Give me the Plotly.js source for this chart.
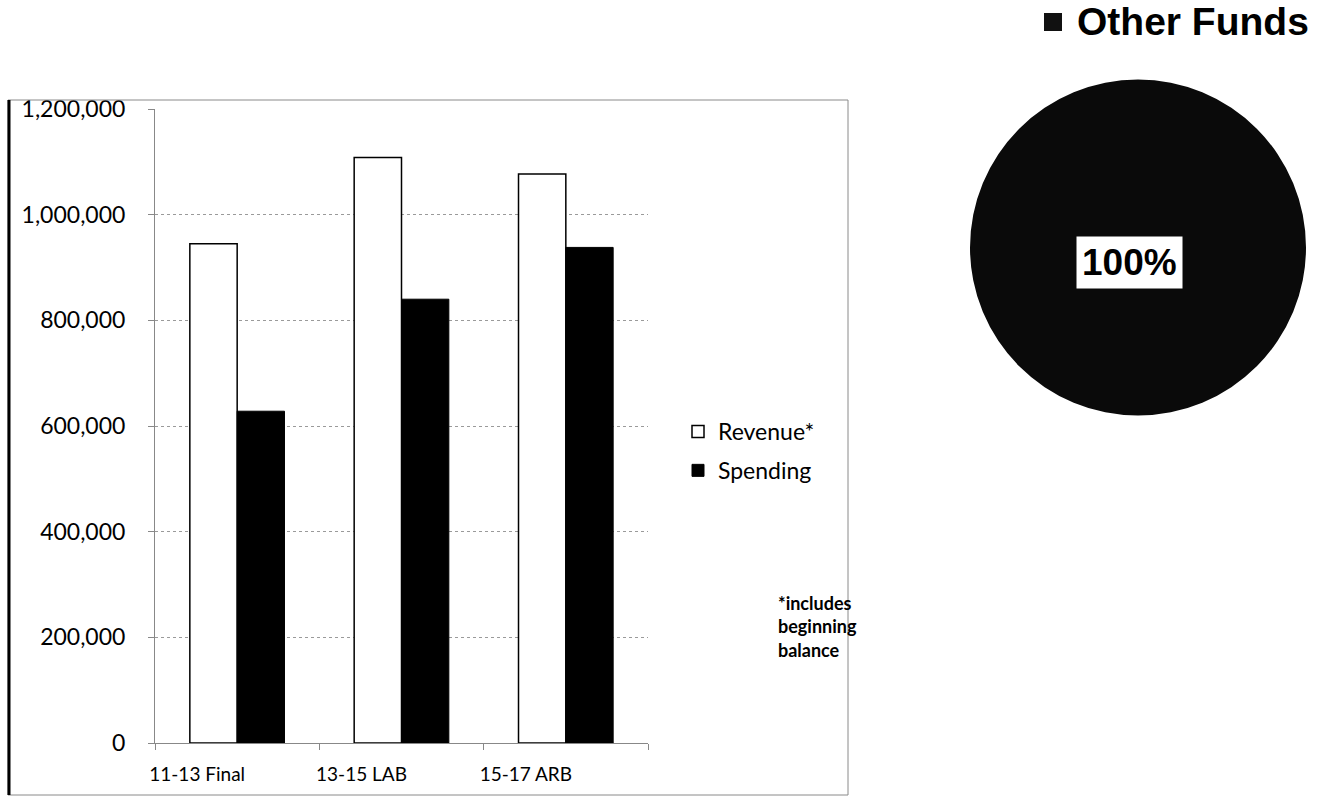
<!DOCTYPE html>
<html>
<head>
<meta charset="utf-8">
<script src="https://cdn.plot.ly/plotly-3.0.1.min.js"></script>
<style>html,body{margin:0;padding:0;background:#fff;}#chart{width:1317px;height:810px;}</style>
</head>
<body>
<div id="chart"></div>
<script>
const categories = ["11-13 Final", "13-15 LAB", "15-17 ARB"];
const revenue = [945000, 1108000, 1077000];
const spending = [628000, 840000, 938000];
const yTickVals = [0, 200000, 400000, 600000, 800000, 1000000, 1200000];
const yTickText = ["0", "200,000", "400,000", "600,000", "800,000", "1,000,000", "1,200,000"];
const pieLabels = ["Other Funds"];
const pieValues = [100];
const noteText = "*includes<br>beginning<br>balance";

const W = 1317, H = 810;
const px = x => x / W;
const py = y => 1 - y / H;

const pieTotal = pieValues.reduce((a, b) => a + b, 0);
const piePct = Math.round(pieValues[0] / pieTotal * 100) + "%";

const data = [
  {
    type: "bar", name: "Revenue*", x: categories, y: revenue,
    marker: {color: "#ffffff", line: {color: "#000000", width: 1.5}},
    legendgroup: "r", hoverinfo: "skip"
  },
  {
    type: "bar", name: "Spending", x: categories, y: spending,
    marker: {color: "#000000", line: {color: "#000000", width: 1}},
    legendgroup: "s", hoverinfo: "skip"
  },
  {
    type: "pie", labels: pieLabels, values: pieValues,
    domain: {x: [px(970), px(1306)], y: [py(418), py(77)]},
    marker: {colors: ["#0a0a0a"], line: {width: 0}},
    textinfo: "none", showlegend: false, sort: false, hoverinfo: "skip"
  }
];

const layout = {
  width: W, height: H,
  margin: {l: 0, r: 0, t: 0, b: 0},
  paper_bgcolor: "#ffffff", plot_bgcolor: "#ffffff",
  barmode: "group", bargap: 0.424, bargroupgap: 0,
  font: {family: "Lato, 'Open Sans', sans-serif", color: "#000"},
  xaxis: {
    domain: [px(155), px(648)],
    tickson: "boundaries", ticks: "outside", ticklen: 6, tickcolor: "#888",
    showline: true, linecolor: "#888", linewidth: 1,
    tickfont: {size: 19, family: "Lato, sans-serif"},
    ticklabelstandoff: 14, ticklabelshift: -40,
    showgrid: false, fixedrange: true
  },
  yaxis: {
    domain: [py(743), py(109)],
    range: [0, 1200000],
    tickvals: yTickVals, ticktext: yTickText,
    ticks: "outside", ticklen: 6, tickcolor: "#888",
    showline: true, linecolor: "#888", linewidth: 1,
    showgrid: true, gridcolor: "#9a9a9a", gridwidth: 1, griddash: "dot",
    zeroline: false,
    ticklabelstandoff: 18,
    tickfont: {size: 23, family: "Lato, sans-serif"},
    fixedrange: true
  },
  showlegend: true,
  legend: {
    x: px(678), y: py(410), xanchor: "left", yanchor: "top",
    font: {size: 23, family: "Lato, sans-serif"},
    traceorder: "grouped", tracegroupgap: 6,
    bgcolor: "rgba(0,0,0,0)"
  },
  shapes: [
    {type: "rect", xref: "paper", yref: "paper", x0: px(8), x1: px(848), y0: py(795), y1: py(100),
     line: {color: "#8a8a8a", width: 1}},
    {type: "line", xref: "paper", yref: "paper", x0: px(9), x1: px(9), y0: py(795), y1: py(100),
     line: {color: "#000", width: 3}},
    {type: "rect", xref: "paper", yref: "paper", x0: px(1044), x1: px(1062), y0: py(31), y1: py(13),
     fillcolor: "#111", line: {color: "#111", width: 0}}
  ],
  annotations: [
    {xref: "paper", yref: "paper", x: px(776), y: py(590), xanchor: "left", yanchor: "top",
     text: noteText, showarrow: false, align: "left",
     font: {size: 18, family: "Lato, sans-serif", weight: "bold"}},
    {xref: "paper", yref: "paper", x: px(1075), y: py(22), xanchor: "left", yanchor: "middle",
     text: "<b>" + pieLabels[0] + "</b>", showarrow: false,
     font: {size: 39, family: "'Liberation Sans', Arial, sans-serif", color: "#000"}},
    {xref: "paper", yref: "paper", x: px(1129), y: py(263), xanchor: "center", yanchor: "middle",
     text: "<b>" + piePct + "</b>", showarrow: false, bgcolor: "#ffffff", borderpad: 5,
     font: {size: 37, family: "'Liberation Sans', Arial, sans-serif", color: "#000"}}
  ]
};

Plotly.newPlot("chart", data, layout, {displayModeBar: false, staticPlot: true});
</script>
</body>
</html>
